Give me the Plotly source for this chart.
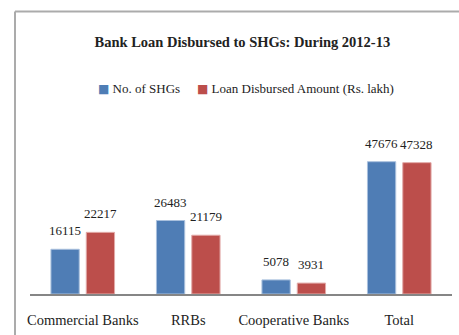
import plotly.graph_objects as go

categories = ["Commercial Banks", "RRBs", "Cooperative Banks", "Total"]
shgs = [16115, 26483, 5078, 47676]
loan = [22217, 21179, 3931, 47328]
series_names = ["No. of SHGs", "Loan Disbursed Amount (Rs. lakh)"]
colors = ["#4F7DB5", "#BC4E4B"]
edge_colors = ["#A9C0DD", "#E2AAA8"]

FONT = "Liberation Serif"
W, H = 459, 335
ml, mr, mt, mb = 30, 7, 100, 41
plot_h = H - mt - mb
plot_w = W - ml - mr
ymax = plot_h / 0.002775

fig = go.Figure()
for name, vals, c, ec in zip(series_names, [shgs, loan], colors, edge_colors):
    fig.add_trace(go.Bar(
        x=categories, y=vals, name=name,
        marker=dict(color=c, line=dict(color=ec, width=1)),
    ))

# data labels
offsets = [-17.6, 17.6]
for vals, dx in zip([shgs, loan], offsets):
    for cat, v in zip(categories, vals):
        fig.add_annotation(
            x=cat, y=v, text=str(v), showarrow=False,
            xshift=dx, yshift=9, yanchor="bottom",
            font=dict(family=FONT, size=13, color="#222"),
        )

# legend drawn as text with coloured squares
legend_px = [96, 195]
for name, c, px in zip(series_names, colors, legend_px):
    fig.add_annotation(
        xref="paper", yref="paper", x=(px - ml) / plot_w, y=(H - mb - 88) / plot_h,
        xanchor="left", yanchor="middle", showarrow=False,
        text=f'<span style="color:{c};font-family:DejaVu Sans;font-size:12px">■</span> {name}',
        font=dict(family=FONT, size=13, color="#222"),
    )

# border (top and left)
bx = (15 - ml) / plot_w
by = (H - mb - 11.5) / plot_h
fig.add_shape(type="line", xref="paper", yref="paper", x0=bx, x1=1.1, y0=by, y1=by,
              line=dict(color="#ABABAB", width=2))
fig.add_shape(type="line", xref="paper", yref="paper", x0=bx, x1=bx, y0=by, y1=-0.5,
              line=dict(color="#ABABAB", width=2))

fig.update_layout(
    width=W, height=H,
    margin=dict(l=ml, r=mr, t=mt, b=mb, pad=0),
    paper_bgcolor="white", plot_bgcolor="white",
    barmode="group", bargap=0.33, bargroupgap=0.2,
    title=dict(text="<b>Bank Loan Disbursed to SHGs: During 2012-13</b>",
               x=0.528, xanchor="center", y=1 - 42 / H, yanchor="middle",
               font=dict(family=FONT, size=14.5, color="#222")),
    showlegend=False,
    font=dict(family=FONT, color="#222"),
)
fig.update_xaxes(showline=True, linecolor="#868686", linewidth=2, ticks="",
                 tickfont=dict(family=FONT, size=14.5, color="#222"),
                 ticklabelstandoff=12, showgrid=False)
fig.update_yaxes(range=[0, ymax], visible=False, showgrid=False)

fig.write_html("out.html")
